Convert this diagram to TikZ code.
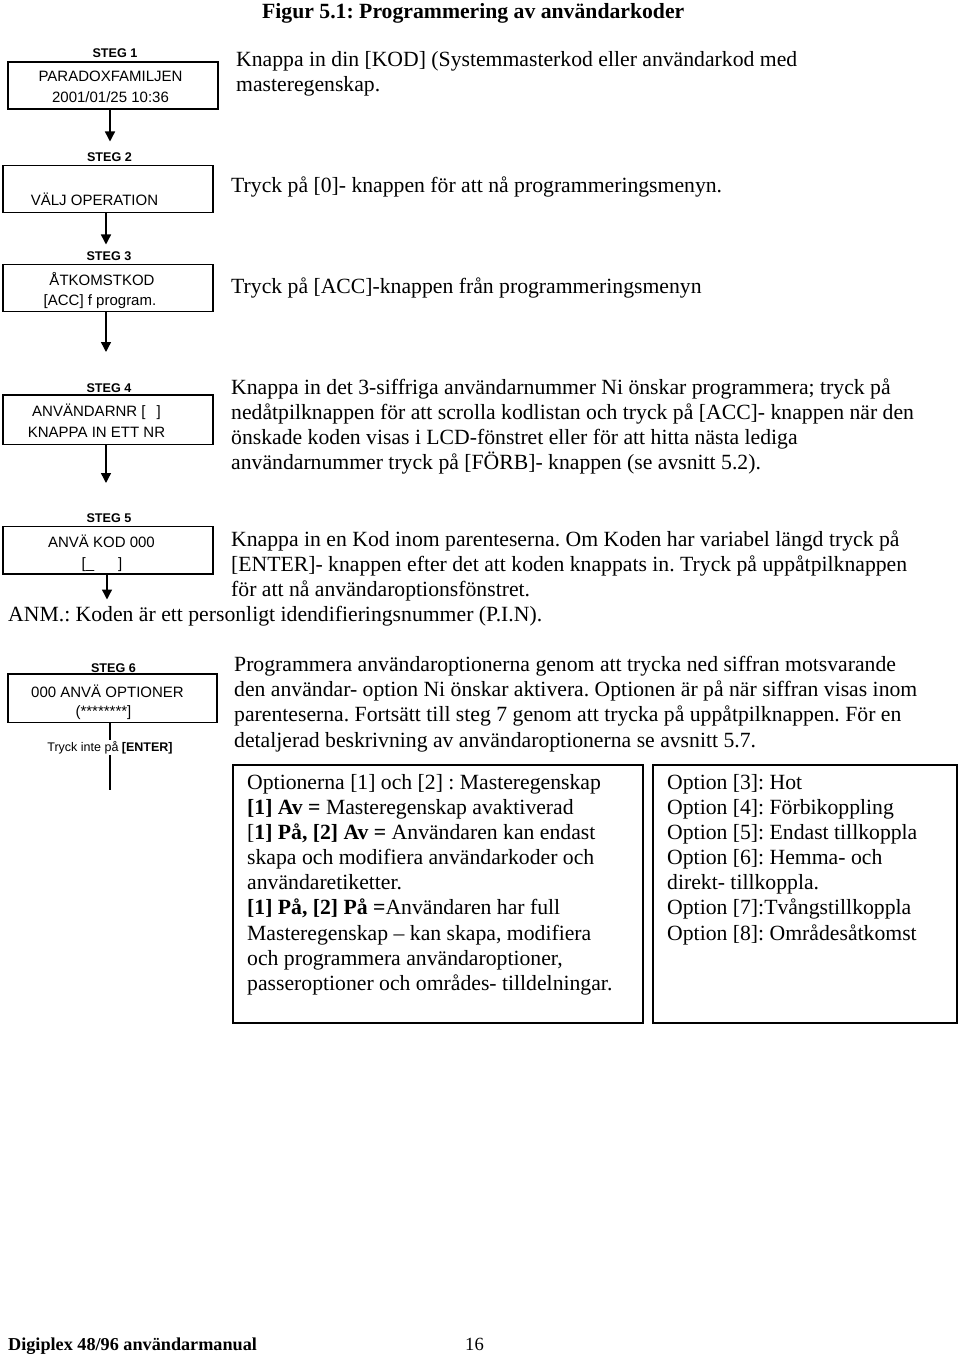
\documentclass[tikz,border=0pt]{standalone}
\usepackage{fontspec}
\setmainfont{Liberation Serif}
\newfontfamily\lcdfont{Liberation Sans}
\usetikzlibrary{arrows.meta}
\frenchspacing
\begin{document}
\begin{tikzpicture}[x=1pt,y=-1pt,
  body/.style={anchor=base west,inner sep=0pt,font=\fontsize{21.7}{25}\selectfont},
  lcdbox/.style={draw,line width=1.4pt,minimum width=210pt,inner sep=0pt},
  optbox/.style={draw,line width=1.9pt,inner sep=0pt},
  lcdtext/.style={anchor=base,inner sep=0pt,font=\lcdfont\fontsize{15}{17}\selectfont},
  steglabel/.style={anchor=base,inner sep=0pt,font=\lcdfont\bfseries\fontsize{12.6}{14}\selectfont},
  arr/.style={line width=1.4pt,-{Triangle[width=10pt,length=10pt]}},
  plain/.style={line width=1.4pt}]
\useasboundingbox (0,0) rectangle (960,1356);

% title
\node[anchor=base west,inner sep=0pt,font=\bfseries\fontsize{21.7}{25}\selectfont] (title) at (262,19) {Figur 5.1: Programmering av användarkoder};

% ---- step 1
\node[steglabel] (l1) at (115,58) {STEG 1};
\node[lcdbox,minimum height=47pt] (b1) at (113,85.5) {};
\node[lcdtext] (b1a) at (110.5,82) {PARADOXFAMILJEN};
\node[lcdtext] (b1b) at (110.5,103) {2001/01/25 10:36};
\node[body] (t1a) at (236,67) {Knappa in din [KOD] (Systemmasterkod eller användarkod med};
\node[body] (t1b) at (236,92) {masteregenskap.};
\coordinate (a2) at (110,141.5);
\draw[arr] (b1.south -| a2) -- (a2);

% ---- step 2
\node[steglabel] (l2) at (109.5,162) {STEG 2};
\node[lcdbox,minimum height=47.5pt] (b2) at (108,189) {};
\node[lcdtext] (b2a) at (94.5,206) {VÄLJ OPERATION};
\node[body] (t2a) at (231,193) {Tryck på [0]- knappen för att nå programmeringsmenyn.};
\coordinate (a3) at (106,244.5);
\draw[arr] (b2.south -| a3) -- (a3);

% ---- step 3
\node[steglabel] (l3) at (109,261) {STEG 3};
\node[lcdbox,minimum height=47pt] (b3) at (108,288) {};
\node[lcdtext] (b3a) at (102,285.5) {ÅTKOMSTKOD};
\node[lcdtext] (b3b) at (100,305) {[ACC] f program.};
\node[body] (t3a) at (231,293) {Tryck på [ACC]-knappen från programmeringsmenyn};
\coordinate (a4) at (106,352);
\draw[arr] (b3.south -| a4) -- (a4);

% ---- step 4
\node[steglabel] (l4) at (109,392) {STEG 4};
\node[lcdbox,minimum height=49.5pt] (b4) at (108,419.7) {};
\node[lcdtext] (b4a) at (96.5,416) {ANVÄNDARNR [\hspace{11pt}]};
\node[lcdtext] (b4b) at (96.5,437) {KNAPPA IN ETT NR};
\node[body] (t4a) at (231,394) {Knappa in det 3-siffriga användarnummer Ni önskar programmera; tryck på};
\node[body] (t4b) at (231,419) {nedåtpilknappen för att scrolla kodlistan och tryck på [ACC]- knappen när den};
\node[body] (t4c) at (231,444) {önskade koden visas i LCD-fönstret eller för att hitta nästa lediga};
\node[body] (t4d) at (231,469) {användarnummer tryck på [FÖRB]- knappen (se avsnitt 5.2).};
\coordinate (a5) at (106,483);
\draw[arr] (b4.south -| a5) -- (a5);

% ---- step 5
\node[steglabel] (l5) at (109,522.5) {STEG 5};
\node[lcdbox,minimum height=47.3pt] (b5) at (108,550.3) {};
\node[lcdtext] (b5a) at (101.5,547) {ANVÄ KOD 000};
\node[lcdtext] (b5b) at (102,568) {[\_\hspace{24pt}]};
\node[body] (t5a) at (231,546) {Knappa in en Kod inom parenteserna. Om Koden har variabel längd tryck på};
\node[body] (t5b) at (231,571) {[ENTER]- knappen efter det att koden knappats in. Tryck på uppåtpilknappen};
\node[body] (t5c) at (231,596) {för att nå användaroptionsfönstret.};
\node[body] (anm) at (8,621) {ANM.: Koden är ett personligt idendifieringsnummer (P.I.N).};
\coordinate (a6) at (107,599.5);
\draw[arr] (b5.south -| a6) -- (a6);

% ---- step 6
\node[steglabel] (l6) at (113.5,672) {STEG 6};
\node[lcdbox,minimum width=209pt,minimum height=48.7pt] (b6) at (112.5,698.3) {};
\node[lcdtext] (b6a) at (107.5,697) {000 ANVÄ OPTIONER};
\node[lcdtext] (b6b) at (103.5,716) {(********]};
\node[anchor=base,inner sep=0pt,font=\lcdfont\fontsize{12.5}{14}\selectfont] (enter) at (110,751) {Tryck inte på \textbf{[ENTER]}};
\coordinate (e1) at (110,740);
\coordinate (e2) at (110,755);
\coordinate (e3) at (110,790);
\draw[plain] (b6.south -| e1) -- (e1);
\draw[plain] (e2) -- (e3);
\node[body] (t6a) at (234,671) {Programmera användaroptionerna genom att trycka ned siffran motsvarande};
\node[body] (t6b) at (234,696) {den användar- option Ni önskar aktivera. Optionen är på när siffran visas inom};
\node[body] (t6c) at (234,721) {parenteserna. Fortsätt till steg 7 genom att trycka på uppåtpilknappen. För en};
\node[body] (t6d) at (234,747) {detaljerad beskrivning av användaroptionerna se avsnitt 5.7.};

% ---- option boxes
\node[optbox,minimum width=410pt,minimum height=258pt] (oa) at (438,894) {};
\node[optbox,minimum width=304pt,minimum height=258pt] (ob) at (805,894) {};

\node[body] (oa1) at (247,789) {Optionerna [1] och [2] : Masteregenskap};
\node[body] (oa2) at (247,814) {\textbf{[1] Av =} Masteregenskap avaktiverad};
\node[body] (oa3) at (247,839) {[\textbf{1] På, [2] Av =} Användaren kan endast};
\node[body] (oa4) at (247,864) {skapa och modifiera användarkoder och};
\node[body] (oa5) at (247,889) {användaretiketter.};
\node[body] (oa6) at (247,914) {\textbf{[1] På, [2] På =}Användaren har full};
\node[body] (oa7) at (247,940) {Masteregenskap – kan skapa, modifiera};
\node[body] (oa8) at (247,965) {och programmera användaroptioner,};
\node[body] (oa9) at (247,990) {passeroptioner och områdes- tilldelningar.};

\node[body] (ob1) at (667,789) {Option [3]: Hot};
\node[body] (ob2) at (667,814) {Option [4]: Förbikoppling};
\node[body] (ob3) at (667,839) {Option [5]: Endast tillkoppla};
\node[body] (ob4) at (667,864) {Option [6]: Hemma- och};
\node[body] (ob5) at (667,889) {direkt- tillkoppla.};
\node[body] (ob6) at (667,914) {Option [7]:Tvångstillkoppla};
\node[body] (ob7) at (667,940) {Option [8]: Områdesåtkomst};

% footer
\node[anchor=base west,inner sep=0pt,font=\bfseries\fontsize{18.2}{22}\selectfont] (foot) at (8,1350.5) {Digiplex 48/96 användarmanual};
\node[anchor=base west,inner sep=0pt,font=\fontsize{18.6}{22}\selectfont] (page) at (465,1350.5) {16};
\end{tikzpicture}
\end{document}
